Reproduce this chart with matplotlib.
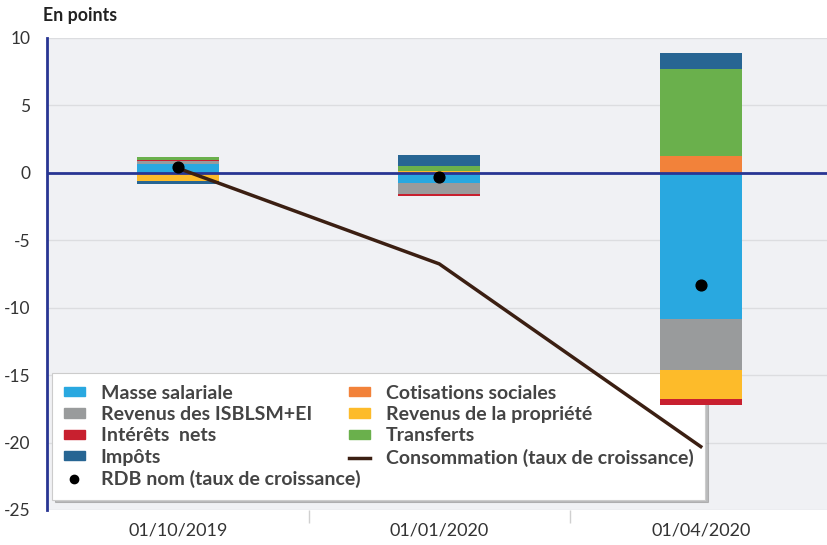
import numpy as np
import matplotlib
matplotlib.use("Agg")
import matplotlib.pyplot as plt
from matplotlib.patches import Patch
from matplotlib.lines import Line2D

plt.rcParams['font.family'] = ['Lato', 'DejaVu Sans']
plt.rcParams['axes.unicode_minus'] = False

# DATA
dates = ['01/10/2019', '01/01/2020', '01/04/2020']
series = ['Masse salariale', 'Cotisations sociales', 'Revenus des ISBLSM+EI',
          'Revenus de la propriété', 'Intérêts  nets', 'Transferts', 'Impôts']
colors = ['#29a8e0', '#f2823a', '#999b9c', '#fdbb2a', '#c8202f', '#6ab04c', '#276593']
masse = [0.67, -0.74, -10.85]
cotisations = [-0.12, 0.0, 1.26]
isblsm = [0.22, -0.86, -3.75]
propriete = [-0.45, 0.12, -2.18]
interets = [0.08, -0.12, -0.47]
transferts = [0.2, 0.37, 6.47]
impots = [-0.23, 0.85, 1.19]
conso = [0.35, -6.75, -20.3]
rdb = [0.4, -0.34, -8.3]

values = [masse, cotisations, isblsm, propriete, interets, transferts, impots]

fig = plt.figure(figsize=(8.27, 5.45), dpi=100)
ax = fig.add_axes([47 / 827, 35 / 545, 784.5 / 827, 472 / 545])
ax.set_facecolor('#f0f1f4')

x = np.arange(len(dates))
pos = np.zeros(len(dates))
neg = np.zeros(len(dates))
for name, vals, c in zip(series, values, colors):
    v = np.array(vals)
    bottoms = np.where(v >= 0, pos, neg)
    ax.bar(x, v, 0.314, bottom=bottoms, color=c, zorder=3)
    pos = pos + np.where(v >= 0, v, 0)
    neg = neg + np.where(v < 0, v, 0)

ax.axhline(0, color='#283593', lw=2, zorder=4)
ax.plot(x, conso, color='#3b1f12', lw=2.5, zorder=5)
ax.scatter(x, rdb, s=60, color='black', zorder=6)

ax.set_xlim(-0.5, 2.5)
ax.set_ylim(-25, 10)
ax.set_yticks(np.arange(-25, 11, 5))
ax.grid(axis='y', color='#dcdde0', lw=1, zorder=0)
ax.set_axisbelow(True)
for s in ['top', 'right', 'bottom']:
    ax.spines[s].set_visible(False)
ax.spines['left'].set_color('#283593')
ax.spines['left'].set_linewidth(2)
ax.tick_params(axis='y', length=0, pad=12, labelsize=12.5, labelcolor='#333333')
ax.set_xticks(x)
ax.set_xticklabels(dates)
ax.tick_params(axis='x', which='major', length=0, pad=9, labelsize=13, labelcolor='#333333')
ax.set_xticks([0.5, 1.5], minor=True)
ax.tick_params(axis='x', which='minor', length=9, width=1, color='#d0d0d0', direction='out')

fig.text(43 / 827, 1 - 15 / 545, 'En points', fontsize=12.8, fontweight='bold',
         color='#222222', va='center')

# legend, column-major order
h = {n: Patch(color=c) for n, c in zip(series, colors)}
line_h = Line2D([], [], color='#3b1f12', lw=2.5)
dot_h = Line2D([], [], marker='o', color='black', ls='', markersize=6)
handles = [h['Masse salariale'], h['Revenus des ISBLSM+EI'], h['Intérêts  nets'], h['Impôts'], dot_h,
           h['Cotisations sociales'], h['Revenus de la propriété'], h['Transferts'], line_h]
labels = ['Masse salariale', 'Revenus des ISBLSM+EI', 'Intérêts  nets', 'Impôts',
          'RDB nom (taux de croissance)',
          'Cotisations sociales', 'Revenus de la propriété', 'Transferts',
          'Consommation (taux de croissance)']
leg = ax.legend(handles, labels, ncol=2, loc='upper left',
                bbox_to_anchor=(52 / 827, 1 - 373 / 545), bbox_transform=fig.transFigure,
                borderaxespad=0,
                frameon=True, fancybox=False, shadow={'color': '#888888', 'alpha': 0.5},
                prop={'weight': 'bold', 'size': 14}, labelcolor='#444444',
                handlelength=1.1, handleheight=0.35, handletextpad=0.8,
                columnspacing=-0.6, labelspacing=0.22, borderpad=0.6)
leg.get_frame().set_edgecolor('#cccccc')
leg.get_frame().set_linewidth(0.8)
leg.set_zorder(2.5)

fig.savefig('out.png', dpi=100)
